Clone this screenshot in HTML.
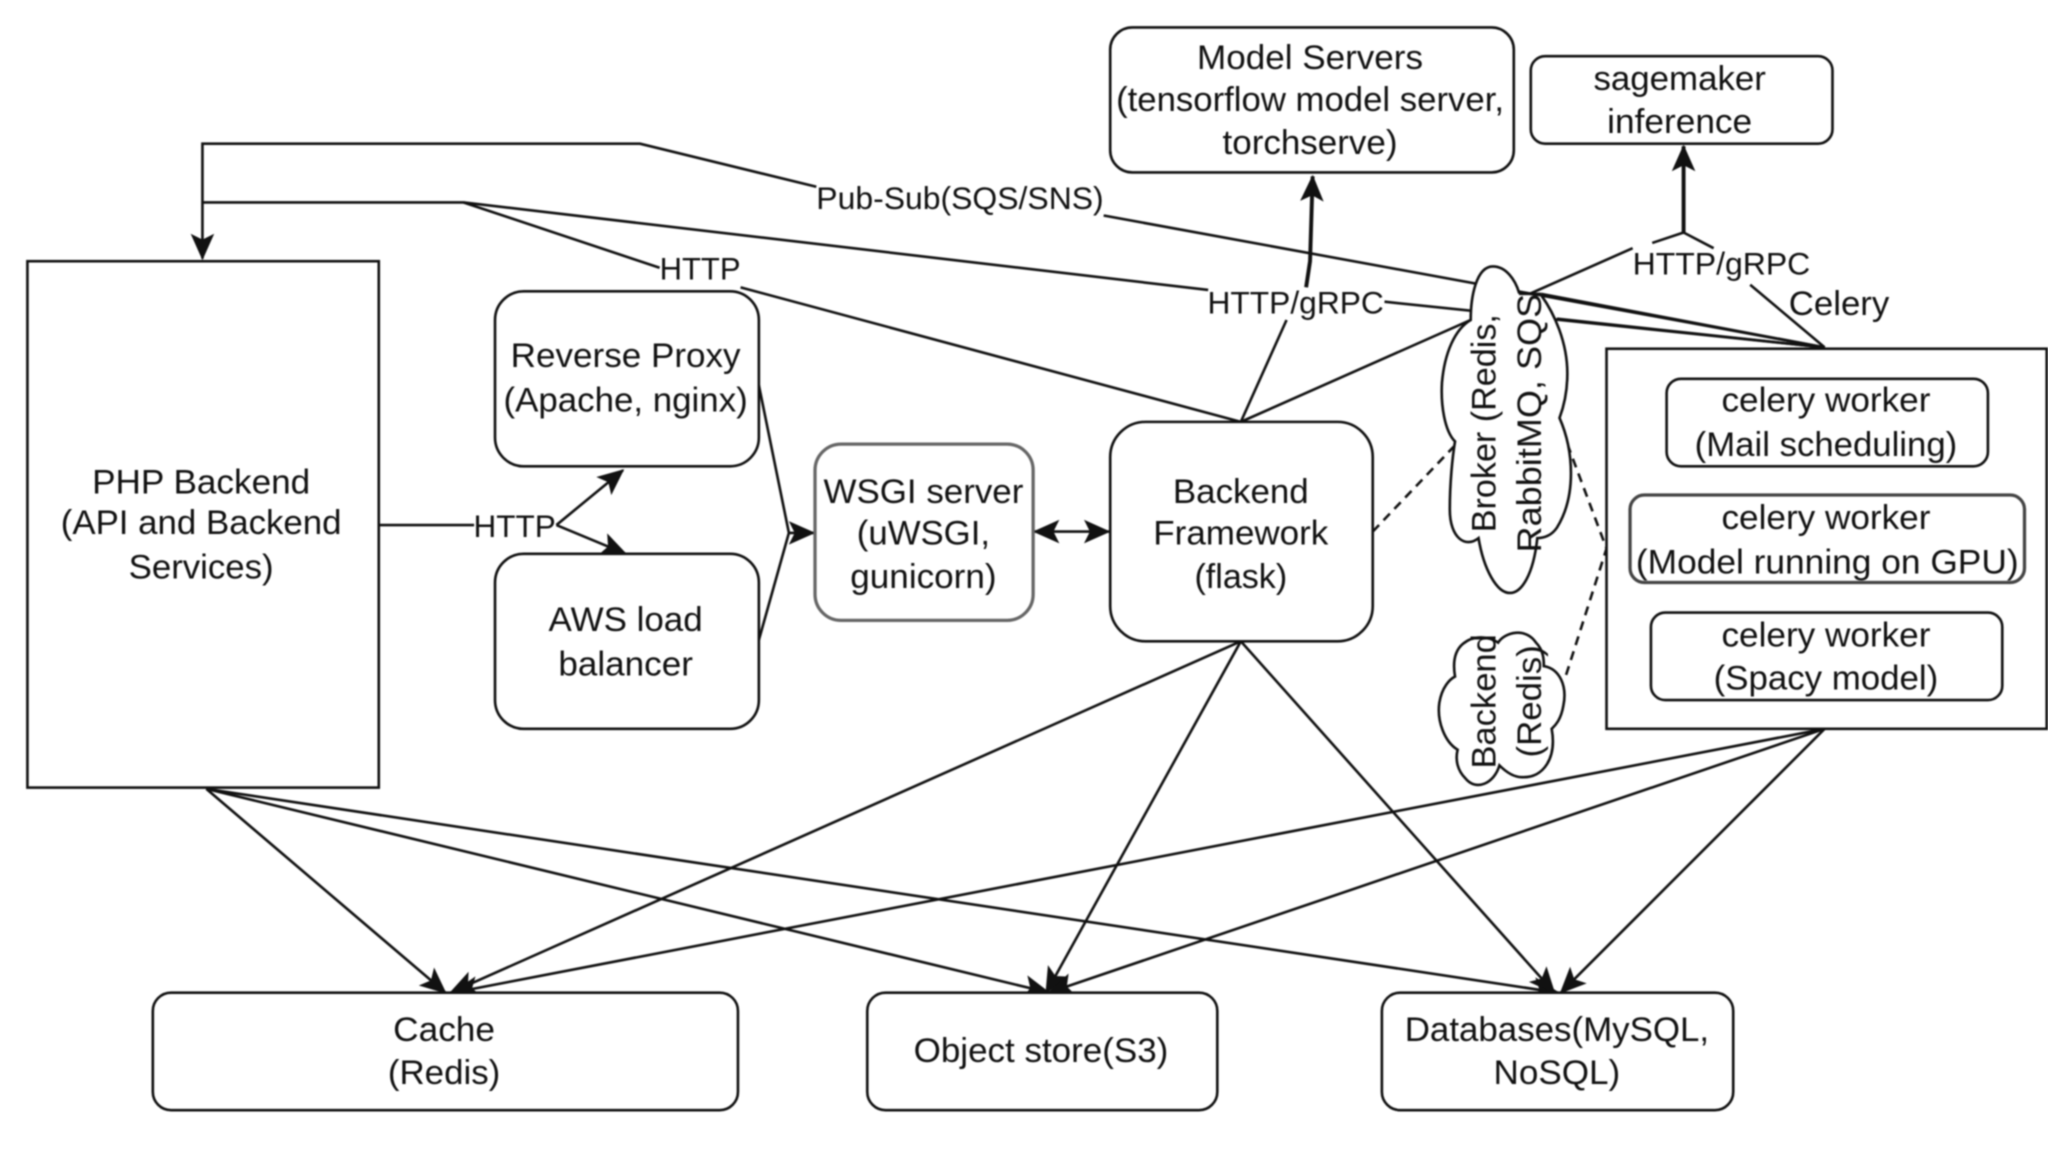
<!DOCTYPE html>
<html>
<head>
<meta charset="utf-8">
<style>
html,body{margin:0;padding:0;background:#fff;width:2048px;height:1152px;overflow:hidden}
svg{display:block;filter:blur(.8px)}
text{font-family:"Liberation Sans",sans-serif;font-size:26px;fill:#111;text-anchor:middle}
.l{fill:none;stroke:#111;stroke-width:2}
.t{fill:none;stroke:#111;stroke-width:3}
.s{fill:#fff;stroke:#111;stroke-width:2}
</style>
</head>
<body>
<svg width="2048" height="1152" viewBox="0 0 1568 882" xmlns="http://www.w3.org/2000/svg">
<defs>
<marker id="a" markerUnits="userSpaceOnUse" markerWidth="24" markerHeight="24" refX="20" refY="10" orient="auto-start-reverse" viewBox="0 0 24 20">
<path d="M2,2 L20,10 L2,18 L6,10 Z" fill="#111" stroke="#111" stroke-width="1"/>
</marker>
</defs>
<rect width="1568" height="882" fill="#fff"/>

<!-- connectors -->
<path class="l" d="M625,143 L490,110 L155,110 L155,198" marker-end="url(#a)"/>
<path class="l" d="M845,165 L1397,266"/>
<path class="l" d="M155,155 L355,155 L925,222"/>
<path class="l" d="M1060,231 L1397,266"/>
<path class="l" d="M355,155 L505,205"/>
<path class="l" d="M567,220 L950,323"/>
<path class="l" d="M950,323 L985,245"/>
<path class="t" d="M1000,220 L1003,200 L1005,135" marker-end="url(#a)"/>
<path class="l" d="M950,323 L1250,190"/>
<path class="l" d="M1265,186 L1289,178"/>
<path class="t" d="M1289,178 L1289,112" marker-end="url(#a)"/>
<path class="l" d="M1289,178 L1312,190"/>
<path class="l" d="M1340,218 L1397,266"/>
<path class="l" d="M290,402 L363,402"/>
<path class="l" d="M426,402 L477,360" marker-end="url(#a)"/>
<path class="l" d="M426,402 L479,424" marker-end="url(#a)"/>
<path class="l" d="M581,295 L604,408 L623,408" marker-end="url(#a)"/>
<path class="l" d="M581,490 L604,408"/>
<path class="l" d="M792,407 L849,407" marker-start="url(#a)" marker-end="url(#a)"/>
<path class="l" stroke-dasharray="7 5" d="M1051,407 L1113,342"/>
<path class="l" stroke-dasharray="7 5" d="M1200,340 L1230,420 L1198,520"/>

<path class="l" d="M158,604 L341,760" marker-end="url(#a)"/>
<path class="l" d="M158,604 L803,760" marker-end="url(#a)"/>
<path class="l" d="M158,604 L1193,760" marker-end="url(#a)"/>
<path class="l" d="M950,491 L345,760" marker-end="url(#a)"/>
<path class="l" d="M950,491 L801,760" marker-end="url(#a)"/>
<path class="l" d="M950,491 L1190,760" marker-end="url(#a)"/>
<path class="l" d="M1397,558 L347,760" marker-end="url(#a)"/>
<path class="l" d="M1397,558 L803,760" marker-end="url(#a)"/>
<path class="l" d="M1397,558 L1195,760" marker-end="url(#a)"/>

<!-- boxes -->
<rect class="s" x="850" y="21" width="309" height="111" rx="17"/>
<rect class="s" x="1172" y="43" width="231" height="67" rx="11"/>
<rect class="s" x="21" y="200" width="269" height="403"/>
<rect class="s" x="379" y="223" width="202" height="134" rx="22"/>
<rect class="s" x="379" y="424" width="202" height="134" rx="22"/>
<rect x="624" y="340" width="167" height="135" rx="20" fill="#fff" stroke="#666" stroke-width="2.5"/>
<rect class="s" x="850" y="323" width="201" height="168" rx="27"/>
<rect class="s" x="1230" y="267" width="337" height="291"/>
<rect class="s" x="1276" y="290" width="246" height="67" rx="11"/>
<rect x="1248" y="379" width="302" height="67" rx="11" fill="#fff" stroke="#444" stroke-width="2.5"/>
<rect class="s" x="1264" y="469" width="269" height="67" rx="11"/>
<rect class="s" x="117" y="760" width="448" height="90" rx="14"/>
<rect class="s" x="664" y="760" width="268" height="90" rx="14"/>
<rect class="s" x="1058" y="760" width="269" height="90" rx="14"/>

<!-- clouds -->
<path class="s" stroke-width="1.6" d="M1126,245 C1126,228 1130,204 1143,204 C1153,204 1160,214 1163,224 L1180,226 C1190,240 1200,262 1200,286 C1200,300 1197,312 1194,320 C1205,345 1207,380 1192,404 C1188,410 1182,412 1177,412 C1174,440 1165,454 1156,454 C1146,454 1136,436 1132,412 C1122,420 1110,412 1110,390 C1110,370 1112,350 1114,338 C1106,330 1103,310 1104,293 C1106,270 1114,252 1126,245 Z"/>
<path class="l" stroke-width="3" d="M1163,225 L1180,225"/>
<path class="s" stroke-width="1.6" d="M1120,493 C1128,486 1140,487 1147,492 C1152,484 1168,480 1176,492 C1182,498 1182,506 1182,510 C1194,512 1200,525 1197,540 C1195,552 1190,556 1188,558 C1192,580 1182,596 1165,595 C1158,595 1152,590 1148,586 C1144,600 1130,606 1122,596 C1116,590 1114,582 1116,574 C1106,568 1100,552 1102,538 C1104,526 1110,520 1114,518 C1112,506 1114,498 1120,493 Z"/>

<!-- labels -->
<text x="1003" y="53" textLength="173" lengthAdjust="spacingAndGlyphs">Model Servers</text>
<text x="1003" y="85" textLength="297" lengthAdjust="spacingAndGlyphs">(tensorflow model server,</text>
<text x="1003" y="118" textLength="134" lengthAdjust="spacingAndGlyphs">torchserve)</text>
<text x="1286" y="69" textLength="132" lengthAdjust="spacingAndGlyphs">sagemaker</text>
<text x="1286" y="102" textLength="111" lengthAdjust="spacingAndGlyphs">inference</text>
<text x="735" y="160" textLength="220" lengthAdjust="spacingAndGlyphs" style="font-size:24px">Pub-Sub(SQS/SNS)</text>
<text x="536" y="214" textLength="62" lengthAdjust="spacingAndGlyphs" style="font-size:24px">HTTP</text>
<text x="992" y="240" textLength="135" lengthAdjust="spacingAndGlyphs" style="font-size:24px">HTTP/gRPC</text>
<text x="1318" y="210" textLength="136" lengthAdjust="spacingAndGlyphs" style="font-size:24px">HTTP/gRPC</text>
<text x="1408" y="241" textLength="77" lengthAdjust="spacingAndGlyphs">Celery</text>
<text x="154" y="378" textLength="167" lengthAdjust="spacingAndGlyphs">PHP Backend</text>
<text x="154" y="409" textLength="215" lengthAdjust="spacingAndGlyphs">(API and Backend</text>
<text x="154" y="443" textLength="111" lengthAdjust="spacingAndGlyphs">Services)</text>
<text x="479" y="281" textLength="176" lengthAdjust="spacingAndGlyphs">Reverse Proxy</text>
<text x="479" y="315" textLength="187" lengthAdjust="spacingAndGlyphs">(Apache, nginx)</text>
<text x="479" y="483" textLength="118" lengthAdjust="spacingAndGlyphs">AWS load</text>
<text x="479" y="517" textLength="103" lengthAdjust="spacingAndGlyphs">balancer</text>
<text x="394" y="411" textLength="63" lengthAdjust="spacingAndGlyphs" style="font-size:24px">HTTP</text>
<text x="707" y="385" textLength="153" lengthAdjust="spacingAndGlyphs">WSGI server</text>
<text x="707" y="417" textLength="102" lengthAdjust="spacingAndGlyphs">(uWSGI,</text>
<text x="707" y="450" textLength="112" lengthAdjust="spacingAndGlyphs">gunicorn)</text>
<text x="950" y="385" textLength="104" lengthAdjust="spacingAndGlyphs">Backend</text>
<text x="950" y="417" textLength="134" lengthAdjust="spacingAndGlyphs">Framework</text>
<text x="950" y="450" textLength="71" lengthAdjust="spacingAndGlyphs">(flask)</text>
<text x="1398" y="315" textLength="160" lengthAdjust="spacingAndGlyphs">celery worker</text>
<text x="1398" y="349" textLength="201" lengthAdjust="spacingAndGlyphs">(Mail scheduling)</text>
<text x="1398" y="405" textLength="160" lengthAdjust="spacingAndGlyphs">celery worker</text>
<text x="1399" y="439" textLength="293" lengthAdjust="spacingAndGlyphs">(Model running on GPU)</text>
<text x="1398" y="495" textLength="160" lengthAdjust="spacingAndGlyphs">celery worker</text>
<text x="1398" y="528" textLength="172" lengthAdjust="spacingAndGlyphs">(Spacy model)</text>
<text x="340" y="797" textLength="78" lengthAdjust="spacingAndGlyphs">Cache</text>
<text x="340" y="830" textLength="86" lengthAdjust="spacingAndGlyphs">(Redis)</text>
<text x="797" y="813" textLength="195" lengthAdjust="spacingAndGlyphs">Object store(S3)</text>
<text x="1192" y="797" textLength="233" lengthAdjust="spacingAndGlyphs">Databases(MySQL,</text>
<text x="1192" y="830" textLength="97" lengthAdjust="spacingAndGlyphs">NoSQL)</text>

<text transform="translate(1145,324) rotate(-90)" textLength="167" lengthAdjust="spacingAndGlyphs">Broker (Redis,</text>
<text transform="translate(1180,324) rotate(-90)" textLength="198" lengthAdjust="spacingAndGlyphs">RabbitMQ, SQS</text>
<text transform="translate(1145,537) rotate(-90)" textLength="103" lengthAdjust="spacingAndGlyphs">Backend</text>
<text transform="translate(1180,537) rotate(-90)" textLength="86" lengthAdjust="spacingAndGlyphs">(Redis)</text>

<!-- lines exiting the broker cloud on the right -->
<path class="l" stroke-width="2.5" d="M1180,225 L1397,266"/>
<path class="l" d="M1192,244 L1397,266"/>
</svg>
</body>
</html>
